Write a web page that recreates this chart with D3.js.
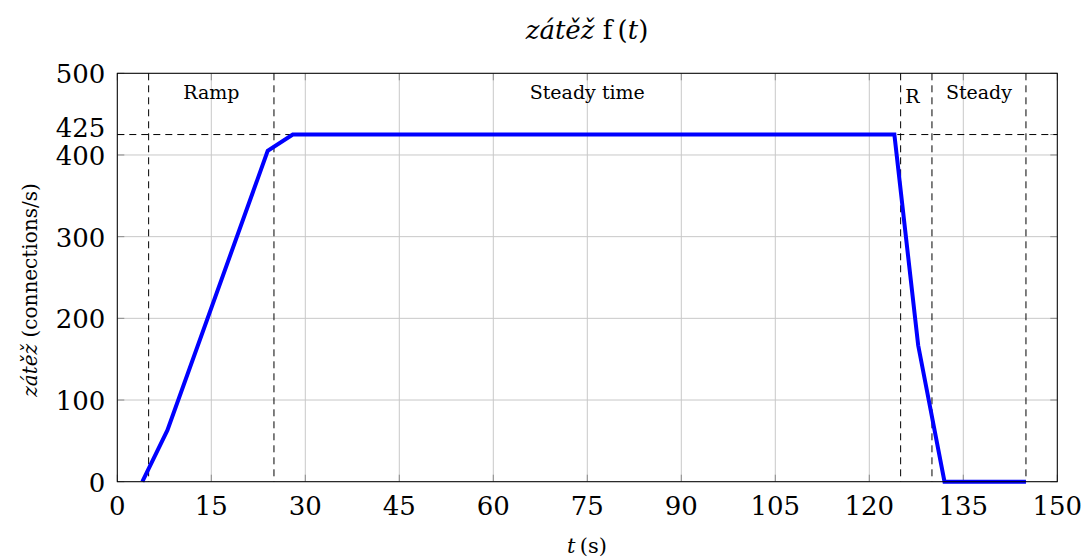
<!DOCTYPE html>
<html lang="en">
<head>
  <meta charset="UTF-8">
  <script src="https://cdn.jsdelivr.net/npm/d3@7"></script>
  <title>zátěž f(t)</title>
  <style>
    body { margin: 0; background: #fff; }
    text { font-family: "DejaVu Serif", "Liberation Serif", serif; fill: #000; }
  </style>
</head>
<body>
  <svg width="1082" height="558" id="chart"></svg>
  <script>
    // data
    let timeValues = [4, 8, 24, 28, 124, 127.8, 132, 145];
    let loadValues = [0, 63, 405, 425, 425, 167, 0, 0];
    let xTicks = [0, 15, 30, 45, 60, 75, 90, 105, 120, 135, 150];
    let yTicks = [0, 100, 200, 300, 400, 500];
    let extraYTick = 425;
    let phaseBounds = [5, 25, 125, 130, 145];
    let phaseLabels = ["Ramp", "Steady time", "R", "Steady"];

    let svg = d3.select("#chart");
    let pLeft = 117.3, pRight = 1057.3, pTop = 73.3, pBottom = 481.7;

    let x = d3.scaleLinear().domain([0, 150]).range([pLeft, pRight]);
    let y = d3.scaleLinear().domain([0, 500]).range([pBottom, pTop]);

    // grid
    svg.append("g").selectAll("line").data(xTicks).enter().append("line")
      .attr("x1", d => x(d)).attr("x2", d => x(d))
      .attr("y1", pTop).attr("y2", pBottom)
      .attr("stroke", "#c8c8c8").attr("stroke-width", 1);
    svg.append("g").selectAll("line").data(yTicks).enter().append("line")
      .attr("x1", pLeft).attr("x2", pRight)
      .attr("y1", d => y(d)).attr("y2", d => y(d))
      .attr("stroke", "#c8c8c8").attr("stroke-width", 1);

    // small ticks on all four sides
    let tickLen = 7;
    let ticks = svg.append("g").attr("stroke", "#8c8c8c").attr("stroke-width", 1);
    xTicks.forEach(t => {
      ticks.append("line").attr("x1", x(t)).attr("x2", x(t)).attr("y1", pBottom).attr("y2", pBottom - tickLen);
      ticks.append("line").attr("x1", x(t)).attr("x2", x(t)).attr("y1", pTop).attr("y2", pTop + tickLen);
    });
    yTicks.concat([extraYTick]).forEach(t => {
      ticks.append("line").attr("x1", pLeft).attr("x2", pLeft + tickLen).attr("y1", y(t)).attr("y2", y(t));
      ticks.append("line").attr("x1", pRight).attr("x2", pRight - tickLen).attr("y1", y(t)).attr("y2", y(t));
    });

    // dashed phase boundaries and plateau level
    svg.append("g").selectAll("line").data(phaseBounds).enter().append("line")
      .attr("x1", d => x(d)).attr("x2", d => x(d))
      .attr("y1", pTop).attr("y2", pBottom)
      .attr("stroke", "#000").attr("stroke-width", 1)
      .attr("stroke-dasharray", "7,5");
    svg.append("line")
      .attr("x1", pLeft).attr("x2", pRight)
      .attr("y1", y(extraYTick)).attr("y2", y(extraYTick))
      .attr("stroke", "#000").attr("stroke-width", 1)
      .attr("stroke-dasharray", "7,5");

    // phase labels
    svg.append("g").selectAll("text").data(phaseLabels).enter().append("text")
      .attr("x", (d, i) => x((phaseBounds[i] + phaseBounds[i + 1]) / 2) - (d == "R" ? 4 : 0))
      .attr("y", d => d == "R" ? 103 : 99)
      .attr("text-anchor", "middle")
      .style("font-size", "19px")
      .text(d => d);

    // load curve
    let points = timeValues.map((t, i) => [t, loadValues[i]]);
    svg.append("path")
      .datum(points)
      .attr("d", d3.line().x(d => x(d[0])).y(d => y(d[1])))
      .attr("fill", "none")
      .attr("stroke", "#0000ff")
      .attr("stroke-width", 4)
      .attr("stroke-linejoin", "miter");

    // frame
    svg.append("rect")
      .attr("x", pLeft).attr("y", pTop)
      .attr("width", pRight - pLeft).attr("height", pBottom - pTop)
      .attr("fill", "none").attr("stroke", "#000").attr("stroke-width", 1);

    // tick labels
    svg.append("g").selectAll("text").data(xTicks).enter().append("text")
      .attr("x", d => x(d)).attr("y", pBottom + 33)
      .attr("text-anchor", "middle")
      .style("font-size", "26px")
      .text(d => d);
    svg.append("g").selectAll("text").data(yTicks.concat([extraYTick])).enter().append("text")
      .attr("x", pLeft - 12)
      .attr("y", d => y(d) + (d == extraYTick ? 2 : 10))
      .attr("text-anchor", "end")
      .style("font-size", "26px")
      .text(d => d);

    // title
    let title = svg.append("text")
      .attr("x", 587).attr("y", 39)
      .attr("text-anchor", "middle")
      .style("font-size", "26px");
    title.append("tspan").style("font-style", "italic").text("zátěž");
    title.append("tspan").text(" f\u2009(");
    title.append("tspan").style("font-style", "italic").text("t");
    title.append("tspan").text(")");

    // axis labels
    let xl = svg.append("text")
      .attr("x", 587).attr("y", 553)
      .attr("text-anchor", "middle")
      .style("font-size", "21px");
    xl.append("tspan").style("font-style", "italic").text("t");
    xl.append("tspan").text("\u2009(s)");

    let yl = svg.append("text")
      .attr("transform", "translate(37,290) rotate(-90)")
      .attr("text-anchor", "middle")
      .style("font-size", "20px");
    yl.append("tspan").style("font-style", "italic").text("zátěž");
    yl.append("tspan").text(" (connections/s)");
  </script>
</body>
</html>
